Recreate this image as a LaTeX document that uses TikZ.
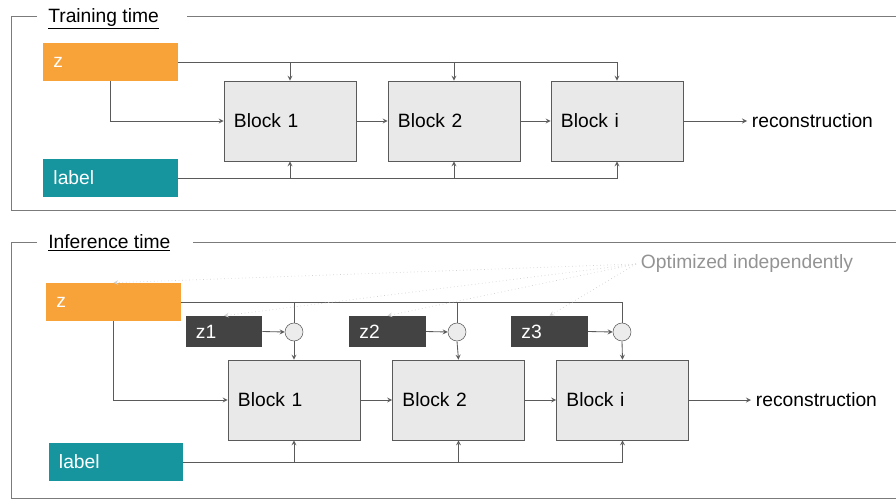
\documentclass[tikz,border=0pt]{standalone}
\usepackage{fontspec}
\setmainfont{Liberation Sans}
\definecolor{zorange}{HTML}{F8A23A}
\definecolor{lblteal}{HTML}{17959F}
\definecolor{noisegray}{HTML}{434343}
\definecolor{blockgray}{HTML}{E9E9E9}
\definecolor{linegray}{HTML}{5A5A5A}
\tikzset{
  frame/.style={draw=linegray!80, line width=0.7pt},
  title/.style={inner sep=0pt, anchor=base west},
  inbox/.style={text=white, inner xsep=0.25cm, text width=2.85cm, minimum height=0.95cm, align=left},
  block/.style={draw=linegray, fill=blockgray, inner xsep=0.25cm, text width=2.8cm, minimum height=2cm, align=left},
  noise/.style={fill=noisegray, text=white, inner xsep=0.25cm, text width=1.4cm, minimum height=0.775cm, align=left},
  mix/.style={circle, draw=linegray, fill=gray!15, minimum size=0.45cm, inner sep=0pt},
  wire/.style={draw=linegray, line width=0.6pt},
  flow/.style={wire, ->, >=stealth},
  hint/.style={draw=gray!35, dotted, line width=0.5pt, ->, >=stealth},
}
\begin{document}
\begin{tikzpicture}[x=0.025cm, y=-0.025cm, font=\fontsize{13.7}{16}\selectfont]
    \useasboundingbox (0,0) rectangle (896,500);

    % training time
    \node[title] (ttrain) at (48,22) {\underline{Training time}};
    \draw[frame] (37,16) -- (11,16) -- (11,210) -- (896,210);
    \draw[frame] (187,16) -- (896,16);

    \node[inbox, fill=zorange] (ztr) at (110.5,62) {z};
    \node[inbox, fill=lblteal] (ltr) at (110.5,178) {label};
    \node[block] (b1) at (290,121) {Block 1};
    \node[block] (b2) at (454,121) {Block 2};
    \node[block] (b3) at (617,121) {Block i};
    \node[anchor=west] (rec) at (747,121) {reconstruction};

    \draw[flow] (ztr.east) -| (b3.north);
    \draw[flow] (ztr.east -| b1.north) -- (b1.north);
    \draw[flow] (ztr.east -| b2.north) -- (b2.north);
    \draw[flow] (ztr.south) |- (b1.west);
    \draw[flow] (ltr.east) -| (b3.south);
    \draw[flow] (ltr.east -| b1.south) -- (b1.south);
    \draw[flow] (ltr.east -| b2.south) -- (b2.south);
    \draw[flow] (b1.east) -- (b2.west);
    \draw[flow] (b2.east) -- (b3.west);
    \draw[flow] (b3.east) -- (rec.west);

    % inference time
    \node[title] (tinf) at (48,248) {\underline{Inference time}};
    \draw[frame] (37,242) -- (11,242) -- (11,498) -- (896,498);
    \draw[frame] (193,242) -- (896,242);

    \node[inbox, fill=zorange] (zin) at (113.5,302) {z};
    \node[inbox, fill=lblteal] (lin) at (116,462) {label};
    \node[noise] (n1) at (224,331.5) {z1};
    \node[noise] (n2) at (387.5,331.5) {z2};
    \node[noise] (n3) at (549.5,331.5) {z3};
    \node[mix] (m1) at (294,332) {};
    \node[mix] (m2) at (457,332) {};
    \node[mix] (m3) at (622,332) {};
    \node[block] (c1) at (294,400) {Block 1};
    \node[block] (c2) at (458.5,400) {Block 2};
    \node[block] (c3) at (622.5,400) {Block i};
    \node[anchor=west] (rec2) at (751,400) {reconstruction};
    \node[anchor=west, text=gray!85] (opt) at (636,264) {Optimized independently};

    \draw[wire] (zin.east) -| (m3.north);
    \draw[wire] (zin.east -| m1.north) -- (m1.north);
    \draw[wire] (zin.east -| m2.north) -- (m2.north);
    \draw[flow] (n1.east) -- (m1.west);
    \draw[flow] (n2.east) -- (m2.west);
    \draw[flow] (n3.east) -- (m3.west);
    \draw[flow] (m1.south) -- (c1.north);
    \draw[flow] (m2.south) -- (c2.north);
    \draw[flow] (m3.south) -- (c3.north);
    \draw[flow] (zin.south) |- (c1.west);
    \draw[flow] (lin.east) -| (c3.south);
    \draw[flow] (lin.east -| c1.south) -- (c1.south);
    \draw[flow] (lin.east -| c2.south) -- (c2.south);
    \draw[flow] (c1.east) -- (c2.west);
    \draw[flow] (c2.east) -- (c3.west);
    \draw[flow] (c3.east) -- (rec2.west);

    % dotted hints
    \draw[hint] (opt.west) -- (zin.north);
    \draw[hint] (opt.west) -- (n1.north);
    \draw[hint] (opt.west) -- (n2.north);
    \draw[hint] (opt.west) -- (n3.north);
\end{tikzpicture}
\end{document}
